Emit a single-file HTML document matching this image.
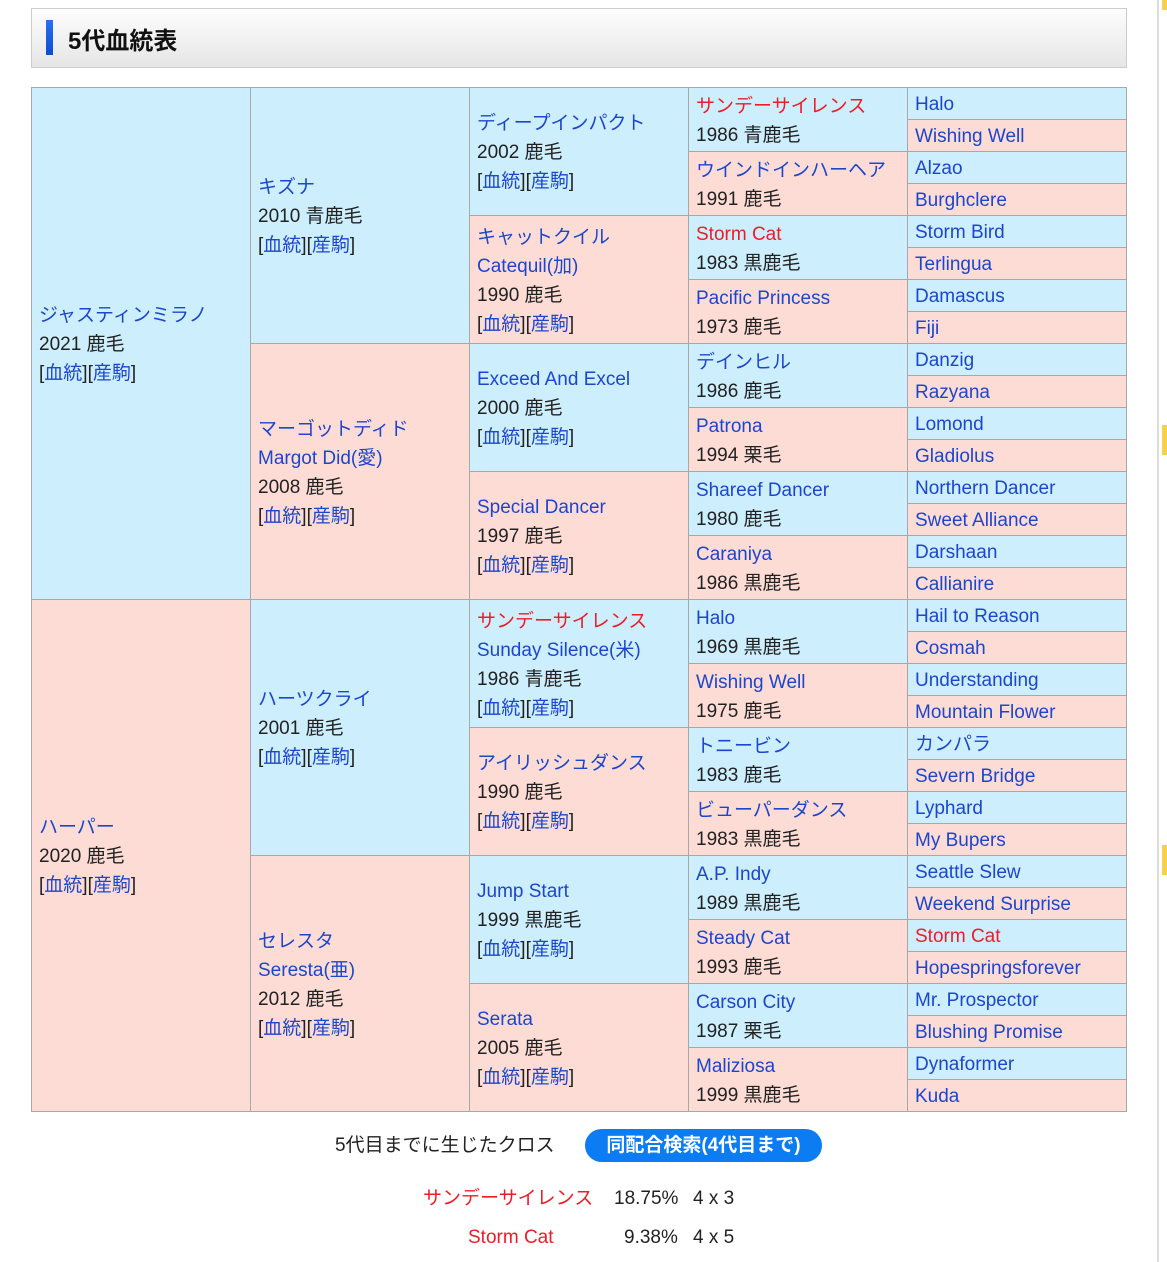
<!DOCTYPE html>
<html><head><meta charset="utf-8"><style>
body{margin:0;width:1167px;height:1262px;background:#fff;position:relative;overflow:hidden;font-family:"Liberation Sans","Noto Sans CJK JP",sans-serif;color:#222;}
.hdr{position:absolute;left:31px;top:8px;width:1094px;height:58px;border:1px solid #ccc;background:linear-gradient(#fdfdfd,#e6e6e6);}
.bar{position:absolute;left:14px;top:11px;width:7px;height:35px;background:linear-gradient(#2a6ff0,#0a4fd0);}
.ttl{position:absolute;left:36px;top:12px;font-size:24px;font-weight:bold;color:#111;}
.grid{position:absolute;left:31px;top:87px;width:1096px;height:1025px;box-sizing:border-box;background:#a8a8a8;padding:1px;display:grid;grid-template-columns:218px 218px 218px 218px 218px;grid-template-rows:repeat(32,1fr);gap:1px;}
.c{display:flex;flex-direction:column;justify-content:center;padding-left:7px;padding-top:2px;font-size:19px;line-height:29px;white-space:nowrap;overflow:hidden;}
.b{background:#cdeefc}.p{background:#fddcd6}
a,.l{color:#1c46cc;text-decoration:none}
.r{color:#ee1c28}
.sb{position:absolute;left:1157px;top:0;width:2px;height:1262px;background:#ddd}
.y{position:absolute;left:1162px;width:5px;background:#f5d24a}
.btn{position:absolute;left:585px;top:1129px;width:237px;height:33px;border-radius:17px;background:#0b7cf2;color:#fff;font-weight:bold;font-size:19px;text-align:center;line-height:33px}
.t{position:absolute;font-size:19px;line-height:22px}
</style></head><body>
<div class="hdr"><div class="bar"></div><div class="ttl">5代血統表</div></div>
<div class="sb"></div><div class="y" style="top:0;height:10px"></div><div class="y" style="top:425px;height:30px"></div><div class="y" style="top:845px;height:30px"></div>
<div class="grid">
<div class="c b" style="grid-column:1;grid-row:1/17"><span class="l">ジャスティンミラノ</span><span>2021 鹿毛</span><span>[<a>血統</a>][<a>産駒</a>]</span></div>
<div class="c p" style="grid-column:1;grid-row:17/33"><span class="l">ハーパー</span><span>2020 鹿毛</span><span>[<a>血統</a>][<a>産駒</a>]</span></div>
<div class="c b" style="grid-column:2;grid-row:1/9"><span class="l">キズナ</span><span>2010 青鹿毛</span><span>[<a>血統</a>][<a>産駒</a>]</span></div>
<div class="c p" style="grid-column:2;grid-row:9/17"><span class="l">マーゴットディド</span><span class="l">Margot Did(愛)</span><span>2008 鹿毛</span><span>[<a>血統</a>][<a>産駒</a>]</span></div>
<div class="c b" style="grid-column:2;grid-row:17/25"><span class="l">ハーツクライ</span><span>2001 鹿毛</span><span>[<a>血統</a>][<a>産駒</a>]</span></div>
<div class="c p" style="grid-column:2;grid-row:25/33"><span class="l">セレスタ</span><span class="l">Seresta(亜)</span><span>2012 鹿毛</span><span>[<a>血統</a>][<a>産駒</a>]</span></div>
<div class="c b" style="grid-column:3;grid-row:1/5"><span class="l">ディープインパクト</span><span>2002 鹿毛</span><span>[<a>血統</a>][<a>産駒</a>]</span></div>
<div class="c p" style="grid-column:3;grid-row:5/9"><span class="l">キャットクイル</span><span class="l">Catequil(加)</span><span>1990 鹿毛</span><span>[<a>血統</a>][<a>産駒</a>]</span></div>
<div class="c b" style="grid-column:3;grid-row:9/13"><span class="l">Exceed And Excel</span><span>2000 鹿毛</span><span>[<a>血統</a>][<a>産駒</a>]</span></div>
<div class="c p" style="grid-column:3;grid-row:13/17"><span class="l">Special Dancer</span><span>1997 鹿毛</span><span>[<a>血統</a>][<a>産駒</a>]</span></div>
<div class="c b" style="grid-column:3;grid-row:17/21"><span class="r">サンデーサイレンス</span><span class="l">Sunday Silence(米)</span><span>1986 青鹿毛</span><span>[<a>血統</a>][<a>産駒</a>]</span></div>
<div class="c p" style="grid-column:3;grid-row:21/25"><span class="l">アイリッシュダンス</span><span>1990 鹿毛</span><span>[<a>血統</a>][<a>産駒</a>]</span></div>
<div class="c b" style="grid-column:3;grid-row:25/29"><span class="l">Jump Start</span><span>1999 黒鹿毛</span><span>[<a>血統</a>][<a>産駒</a>]</span></div>
<div class="c p" style="grid-column:3;grid-row:29/33"><span class="l">Serata</span><span>2005 鹿毛</span><span>[<a>血統</a>][<a>産駒</a>]</span></div>
<div class="c b" style="grid-column:4;grid-row:1/3"><span class="r">サンデーサイレンス</span><span>1986 青鹿毛</span></div>
<div class="c p" style="grid-column:4;grid-row:3/5"><span class="l">ウインドインハーヘア</span><span>1991 鹿毛</span></div>
<div class="c b" style="grid-column:4;grid-row:5/7"><span class="r">Storm Cat</span><span>1983 黒鹿毛</span></div>
<div class="c p" style="grid-column:4;grid-row:7/9"><span class="l">Pacific Princess</span><span>1973 鹿毛</span></div>
<div class="c b" style="grid-column:4;grid-row:9/11"><span class="l">デインヒル</span><span>1986 鹿毛</span></div>
<div class="c p" style="grid-column:4;grid-row:11/13"><span class="l">Patrona</span><span>1994 栗毛</span></div>
<div class="c b" style="grid-column:4;grid-row:13/15"><span class="l">Shareef Dancer</span><span>1980 鹿毛</span></div>
<div class="c p" style="grid-column:4;grid-row:15/17"><span class="l">Caraniya</span><span>1986 黒鹿毛</span></div>
<div class="c b" style="grid-column:4;grid-row:17/19"><span class="l">Halo</span><span>1969 黒鹿毛</span></div>
<div class="c p" style="grid-column:4;grid-row:19/21"><span class="l">Wishing Well</span><span>1975 鹿毛</span></div>
<div class="c b" style="grid-column:4;grid-row:21/23"><span class="l">トニービン</span><span>1983 鹿毛</span></div>
<div class="c p" style="grid-column:4;grid-row:23/25"><span class="l">ビューパーダンス</span><span>1983 黒鹿毛</span></div>
<div class="c b" style="grid-column:4;grid-row:25/27"><span class="l">A.P. Indy</span><span>1989 黒鹿毛</span></div>
<div class="c p" style="grid-column:4;grid-row:27/29"><span class="l">Steady Cat</span><span>1993 鹿毛</span></div>
<div class="c b" style="grid-column:4;grid-row:29/31"><span class="l">Carson City</span><span>1987 栗毛</span></div>
<div class="c p" style="grid-column:4;grid-row:31/33"><span class="l">Maliziosa</span><span>1999 黒鹿毛</span></div>
<div class="c b l">Halo</div><div class="c p l" style="grid-column:5">Wishing Well</div>
<div class="c b l" style="grid-column:5">Alzao</div><div class="c p l" style="grid-column:5">Burghclere</div>
<div class="c b l" style="grid-column:5">Storm Bird</div><div class="c p l" style="grid-column:5">Terlingua</div>
<div class="c b l" style="grid-column:5">Damascus</div><div class="c p l" style="grid-column:5">Fiji</div>
<div class="c b l" style="grid-column:5">Danzig</div><div class="c p l" style="grid-column:5">Razyana</div>
<div class="c b l" style="grid-column:5">Lomond</div><div class="c p l" style="grid-column:5">Gladiolus</div>
<div class="c b l" style="grid-column:5">Northern Dancer</div><div class="c p l" style="grid-column:5">Sweet Alliance</div>
<div class="c b l" style="grid-column:5">Darshaan</div><div class="c p l" style="grid-column:5">Callianire</div>
<div class="c b l" style="grid-column:5">Hail to Reason</div><div class="c p l" style="grid-column:5">Cosmah</div>
<div class="c b l" style="grid-column:5">Understanding</div><div class="c p l" style="grid-column:5">Mountain Flower</div>
<div class="c b l" style="grid-column:5">カンパラ</div><div class="c p l" style="grid-column:5">Severn Bridge</div>
<div class="c b l" style="grid-column:5">Lyphard</div><div class="c p l" style="grid-column:5">My Bupers</div>
<div class="c b l" style="grid-column:5">Seattle Slew</div><div class="c p l" style="grid-column:5">Weekend Surprise</div>
<div class="c b r" style="grid-column:5">Storm Cat</div><div class="c p l" style="grid-column:5">Hopespringsforever</div>
<div class="c b l" style="grid-column:5">Mr. Prospector</div><div class="c p l" style="grid-column:5">Blushing Promise</div>
<div class="c b l" style="grid-column:5">Dynaformer</div><div class="c p l" style="grid-column:5">Kuda</div>
</div>
<div class="t" style="left:335px;top:1135px">5代目までに生じたクロス</div>
<div class="btn">同配合検索(4代目まで)</div>
<div class="t r" style="left:423px;top:1188px">サンデーサイレンス</div>
<div class="t" style="left:614px;top:1188px">18.75%</div>
<div class="t" style="left:693px;top:1188px">4 x 3</div>
<div class="t r" style="left:468px;top:1227px">Storm Cat</div>
<div class="t" style="left:624px;top:1227px">9.38%</div>
<div class="t" style="left:693px;top:1227px">4 x 5</div>
</body></html>
